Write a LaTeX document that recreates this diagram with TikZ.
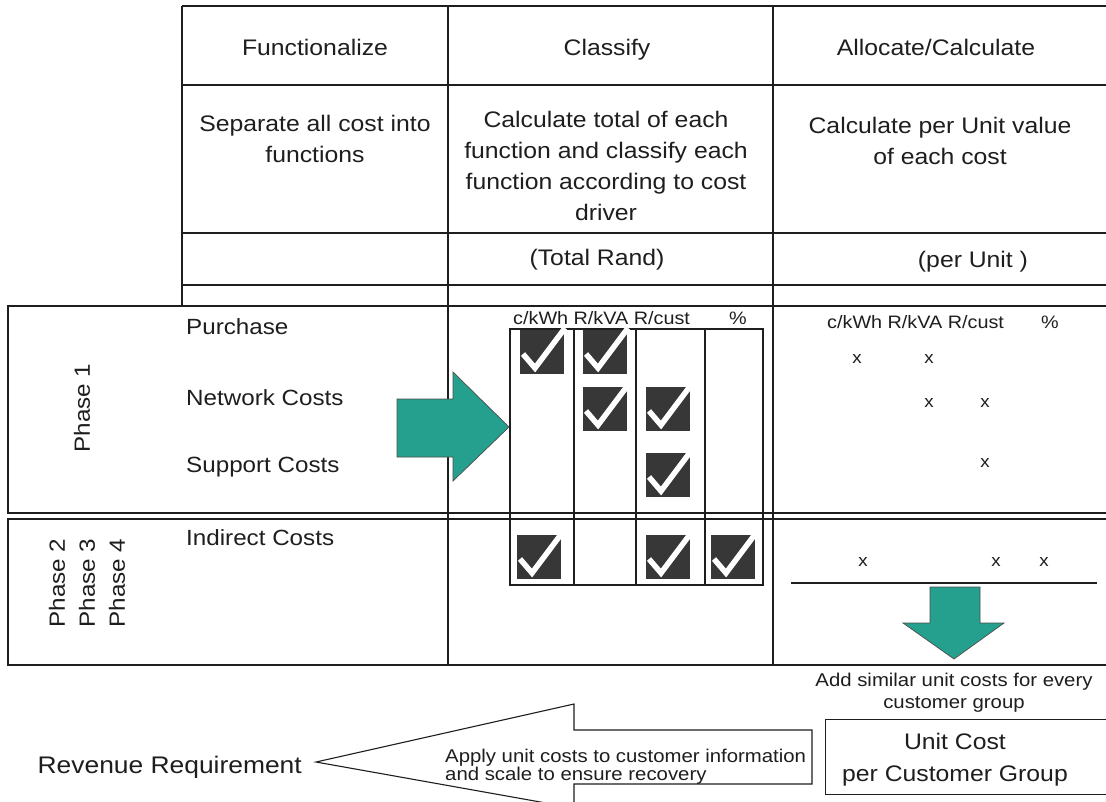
\documentclass[tikz,border=0pt]{standalone}
\usepackage{fontspec}
\setmainfont{Liberation Sans}[FakeStretch=1.1]
\definecolor{teal1}{RGB}{38,160,142}
\definecolor{ink}{RGB}{30,30,30}
\definecolor{boxgray}{RGB}{55,55,55}
\tikzset{
  gridline/.style={draw=ink, line width=1.3pt},
  hdr/.style={font=\fontsize{22.5}{31}\selectfont, text=ink, align=center},
  lbl/.style={font=\fontsize{22}{26}\selectfont, text=ink, anchor=west, inner sep=0pt},
  phase/.style={font=\fontsize{22}{30}\selectfont, text=ink, rotate=90, inner sep=0pt},
  unith/.style={font=\fontsize{18}{20}\selectfont, text=ink, inner sep=0pt},
  xm/.style={font=\fontsize{17}{20}\selectfont, text=ink, inner sep=0pt},
  fatarrow/.style={fill=teal1, draw=black!70, line width=0.7pt},
  ckbg/.style={fill=boxgray},
  ckmark/.style={draw=white, line width=5.5pt, line join=miter},
}
\newcommand\ckbox[2]{%
  \begin{scope}[shift={(#1,#2)}]
    \fill[ckbg] (0,0) rectangle (44,44);
    \draw[ckmark] (3,24) -- (15,38) -- (45,-2);
  \end{scope}}
\begin{document}
\begin{tikzpicture}[x=1pt,y=-1pt]
\useasboundingbox (0,0) rectangle (1106,801);
\fill[white] (0,0) rectangle (1106,801);

% top table
\draw[gridline] (182,6) -- (1110,6);
\draw[gridline] (182,85) -- (1110,85);
\draw[gridline] (182,233) -- (1110,233);
\draw[gridline] (182,285) -- (1110,285);
\draw[gridline] (182,6) -- (182,306);
\draw[gridline] (448,6) -- (448,665);
\draw[gridline] (773,6) -- (773,665);

% phase boxes
\draw[gridline] (8,306) rectangle (1112,513);
\draw[gridline] (8,519) rectangle (1112,665);

% header texts
\node[hdr] (h1) at (315,47) {Functionalize};
\node[hdr] (h2) at (607,50) {Classify};
\node[hdr] (h3) at (936,47) {Allocate/Calculate};
\node[hdr] (d1) at (315,139) {Separate all cost into\\functions};
\node[hdr] (d2) at (606,166) {Calculate total of each\\function and classify each\\function according to cost\\driver};
\node[hdr] (d3) at (940,141) {Calculate per Unit value\\of each cost};
\node[hdr] (u2) at (597,260) {(Total Rand)};
\node[hdr] (u3) at (973,262) {(per Unit )};

% phase labels
\node[phase] (p1) at (82,408) {Phase 1};
\node[phase] (p2) at (57,583) {Phase 2};
\node[phase] (p3) at (87,583) {Phase 3};
\node[phase] (p4) at (117,583) {Phase 4};

% row labels
\node[lbl] (r1) at (186,327) {Purchase};
\node[lbl] (r2) at (186,398) {Network Costs};
\node[lbl] (r3) at (186,467) {Support Costs};
\node[lbl] (r4) at (186,538) {Indirect Costs};

% right teal arrow
\draw[fatarrow] (397,399) -- (453,399) -- (453,372) -- (509,427) -- (453,481) -- (453,457) -- (397,457) -- cycle;

% classification grid
\draw[gridline, line width=1.1pt] (510,329) rectangle (763,585);
\draw[gridline, line width=1.1pt] (574,329) -- (574,585);
\draw[gridline, line width=1.1pt] (636,329) -- (636,585);
\draw[gridline, line width=1.1pt] (705,329) -- (705,585);
\node[unith, anchor=west] (gh) at (513,318) {c/kWh R/kVA R/cust};
\node[unith] (gp) at (738,318) {\%};

\ckbox{520}{330}
\ckbox{583}{330}
\ckbox{583}{387}
\ckbox{646}{387}
\ckbox{646}{453}
\ckbox{517}{535}
\ckbox{646}{535}
\ckbox{711}{535}

% per-unit area
\node[unith, anchor=west] (uh) at (827,322) {c/kWh R/kVA R/cust};
\node[unith] (up) at (1050,322) {\%};
\node[xm] (x11) at (857,359) {x};
\node[xm] (x12) at (929,359) {x};
\node[xm] (x21) at (929,403) {x};
\node[xm] (x22) at (985,403) {x};
\node[xm] (x31) at (985,463) {x};
\node[xm] (x41) at (863,562) {x};
\node[xm] (x42) at (996,562) {x};
\node[xm] (x43) at (1044,562) {x};
\draw[gridline, line width=1.1pt] (791,583) -- (1097,583);

% down teal arrow
\draw[fatarrow] (930,587) -- (980,587) -- (980,623) -- (1004,623) -- (954,659) -- (903,623) -- (930,623) -- cycle;

% bottom
\node[font=\fontsize{18.5}{22}\selectfont, text=ink, align=center] (add) at (954,693) {Add similar unit costs for every\\customer group};
\node[draw=ink, line width=1.1pt, minimum width=290pt, minimum height=75pt, anchor=north west, inner sep=0pt] (ucbox) at (825,719) {};
\node[font=\fontsize{22.5}{32}\selectfont, text=ink, align=center] (uc) at (955,760) {Unit Cost\\per Customer Group};

\node[font=\fontsize{24}{30}\selectfont, text=ink, anchor=east, inner sep=0pt] (rev) at (302,767) {Revenue Requirement};
\coordinate (tip) at (316,762);
\draw[draw=ink, line width=1.1pt] (tip) -- (574,704) -- (574,730) -- (812,730) -- (812,784) -- (574,784) -- (574,808) -- cycle;
\node[font=\fontsize{18.5}{17}\selectfont, text=ink, align=left, anchor=west, inner sep=0pt] (apply) at (445,767) {Apply unit costs to customer information\\and scale to ensure recovery};
\end{tikzpicture}
\end{document}
